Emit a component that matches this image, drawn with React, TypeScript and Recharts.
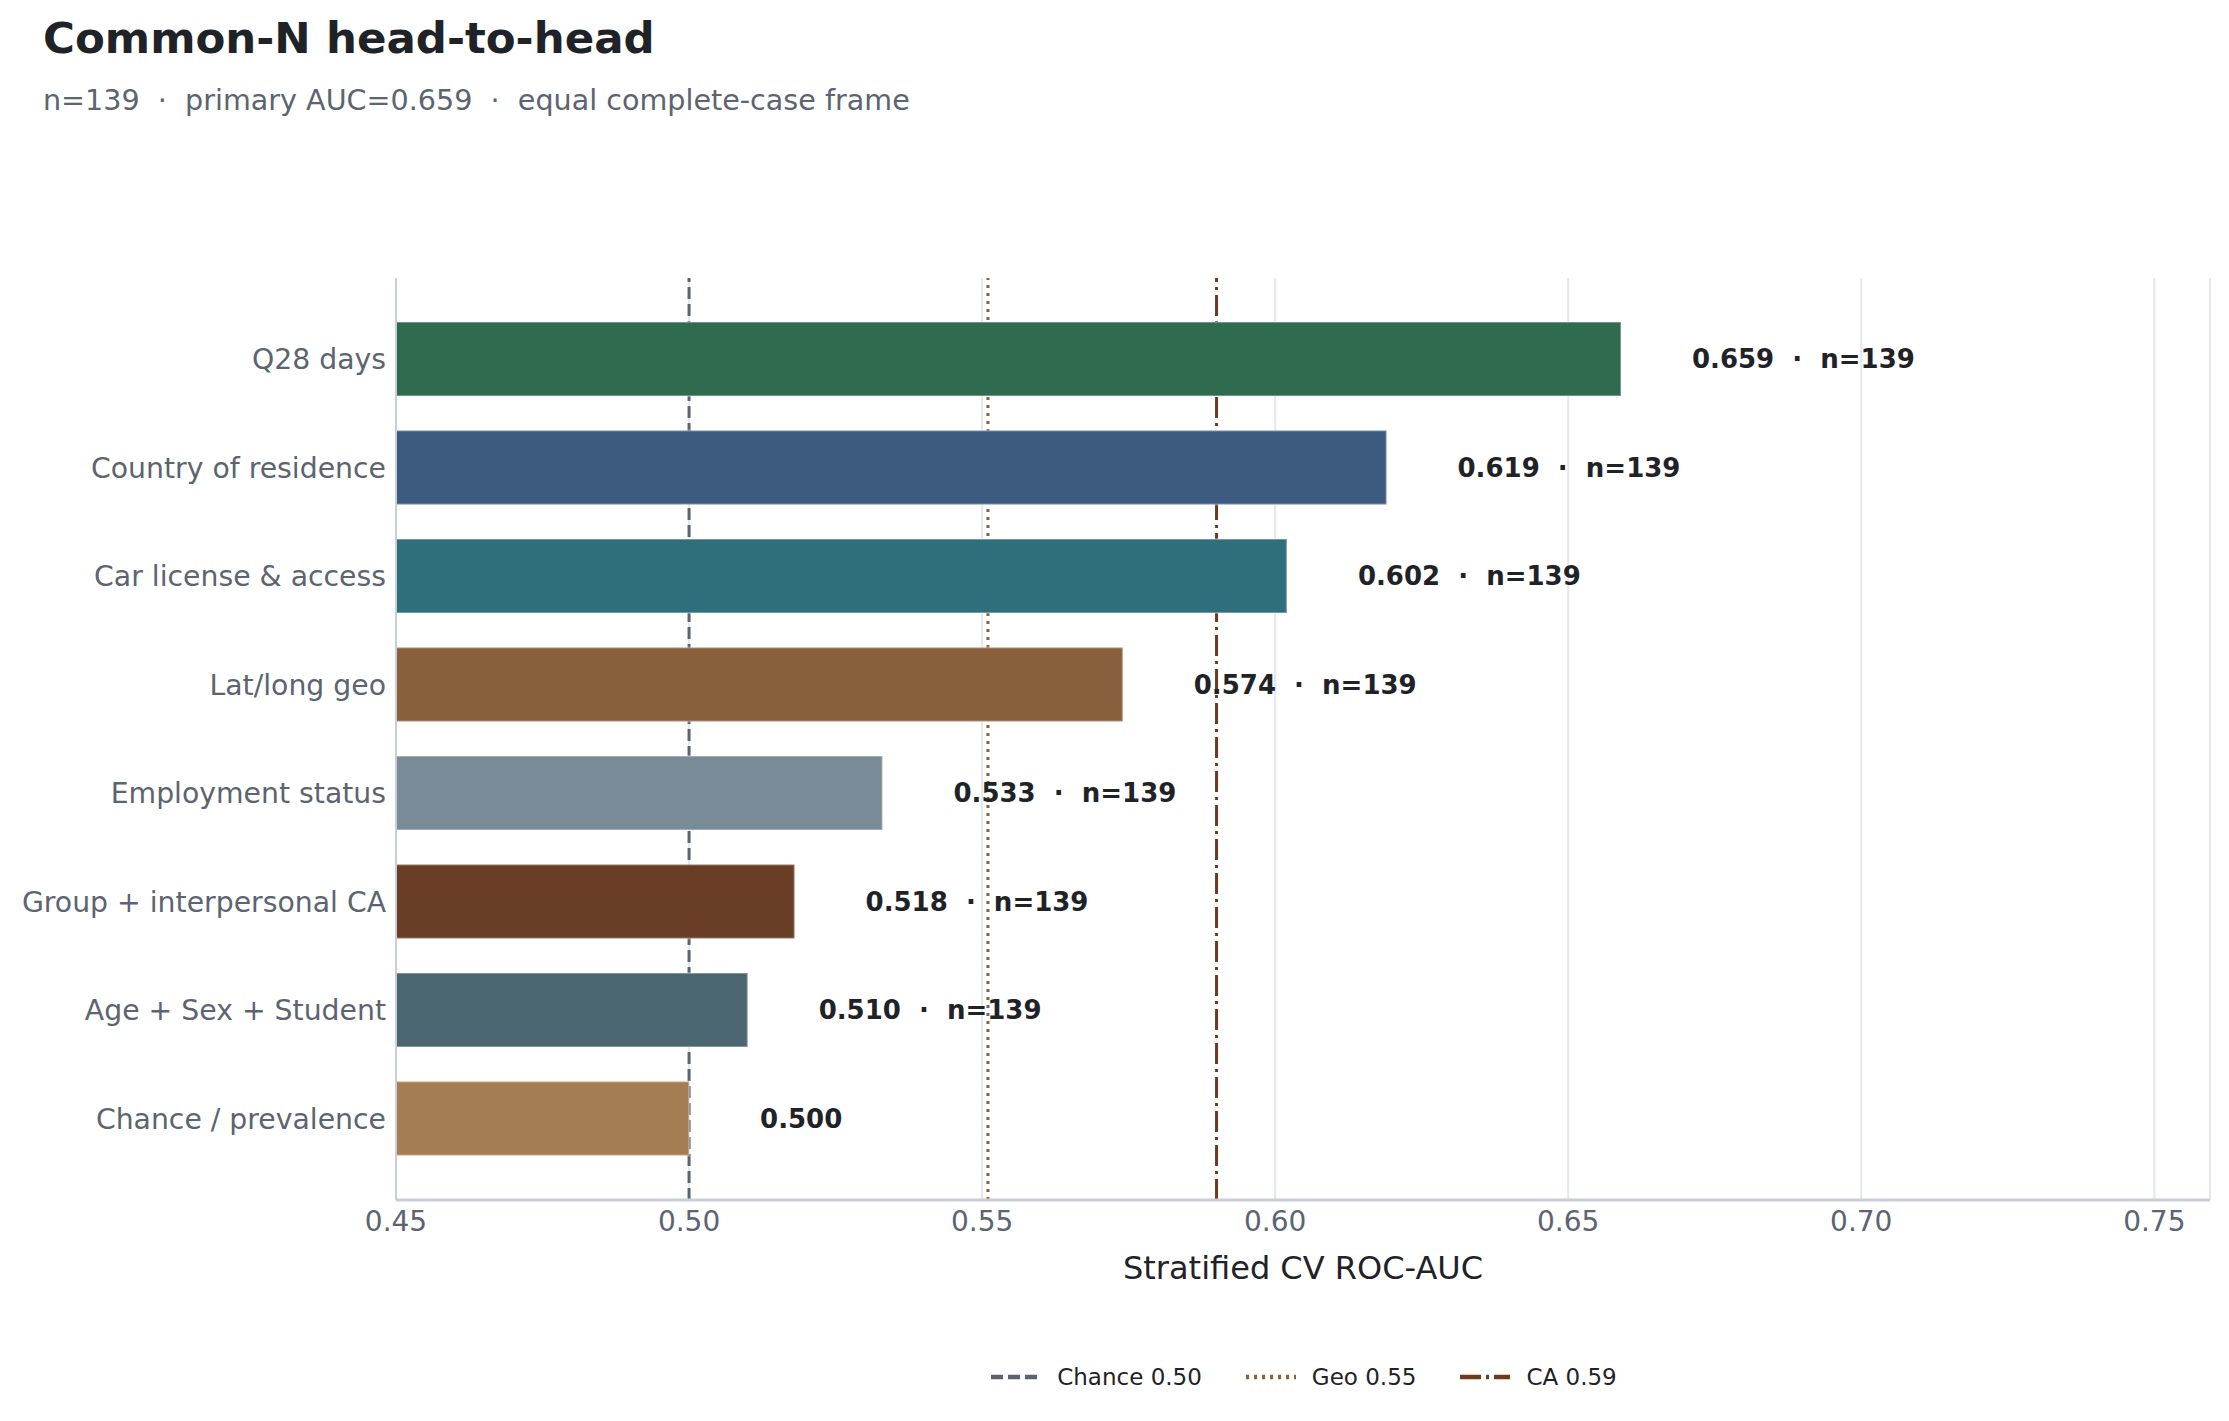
import React from 'react';
import {
  BarChart, Bar, XAxis, YAxis, CartesianGrid, ReferenceLine, Cell, LabelList,
} from 'recharts';

const CATEGORIES = [
  'Q28 days',
  'Country of residence',
  'Car license & access',
  'Lat/long geo',
  'Employment status',
  'Group + interpersonal CA',
  'Age + Sex + Student',
  'Chance / prevalence',
];
const AUC = [0.659, 0.619, 0.602, 0.574, 0.533, 0.518, 0.51, 0.5];
const N_OBS = [139, 139, 139, 139, 139, 139, 139, null];
const X_TICKS = [0.45, 0.5, 0.55, 0.6, 0.65, 0.7, 0.75];
const REF_VALUES = [0.5, 0.551, 0.59];
const REF_LABELS = ['Chance 0.50', 'Geo 0.55', 'CA 0.59'];

const BAR_COLORS = ['#2f6b4f', '#3d5b80', '#2f6f7c', '#8a5f3c', '#7a8b98', '#6a3e26', '#4a6670', '#a67c52'];
const REF_STYLES = [
  { stroke: '#5b6270', dash: '12 5' },
  { stroke: '#8b5e3c', dash: '3 5' },
  { stroke: '#6b3a1f', dash: '21 5 3 5' },
];

const FONT = '"DejaVu Sans", sans-serif';
const W = 2229;
const H = 1421;

const rows = CATEGORIES.map((name, i) => ({
  name,
  auc: AUC[i],
  label: N_OBS[i] == null
    ? AUC[i].toFixed(3)
    : `${AUC[i].toFixed(3)}\u00a0\u00a0·\u00a0\u00a0n=${N_OBS[i]}`,
}));

const ValueLabel = (props: any) => {
  const { x, y, width, height, value } = props;
  return (
    <text
      x={Number(x) + Number(width) + 71}
      y={Number(y) + Number(height) / 2}
      dy="0.36em"
      fontSize={26}
      fontWeight="bold"
      fill="#1f2328"
    >
      {value}
    </text>
  );
};

export default function App() {
  return (
    <div style={{ position: 'absolute', left: 0, top: 0, width: W, height: H, background: '#fff', fontFamily: FONT }}>
      <div style={{ position: 'absolute', left: 43, top: 17, fontSize: 43.5, fontWeight: 'bold', lineHeight: 1, color: '#1f2328', whiteSpace: 'pre' }}>
        Common-N head-to-head
      </div>
      <div style={{ position: 'absolute', left: 43, top: 86, fontSize: 28.6, lineHeight: 1, color: '#5b6470', whiteSpace: 'pre' }}>
        {'n=139  ·  primary AUC=0.659  ·  equal complete-case frame'}
      </div>

      <BarChart
        width={W}
        height={H}
        data={rows}
        layout="vertical"
        margin={{ top: 278, right: 19, bottom: 121, left: 0 }}
      >
        <CartesianGrid horizontal={false} stroke="#e5e7eb" strokeWidth={2} />
        <XAxis
          type="number"
          domain={[0.45, 0.7595]}
          ticks={X_TICKS}
          tickFormatter={(v: number) => v.toFixed(2)}
          height={100}
          tickLine={false}
          tickSize={0}
          tickMargin={11}
          axisLine={{ stroke: '#c8cdd6', strokeWidth: 3 }}
          tick={{ fontSize: 28, fill: '#5b6470' }}
          label={{ value: 'Stratified CV ROC-AUC', position: 'insideBottom', offset: 21, fontSize: 32, fill: '#1f2328' }}
        />
        <YAxis
          type="category"
          dataKey="name"
          width={396}
          tickLine={false}
          tickSize={0}
          tickMargin={10}
          padding={{ top: 27, bottom: 27 }}
          axisLine={{ stroke: '#c8ced8', strokeWidth: 2 }}
          tick={{ fontSize: 28.3, fill: '#5b6470' }}
          interval={0}
        />
        {REF_VALUES.map((v, i) => (
          <ReferenceLine
            key={REF_LABELS[i]}
            x={v}
            stroke={REF_STYLES[i].stroke}
            strokeDasharray={REF_STYLES[i].dash}
            strokeWidth={3}
            zIndex={50}
          />
        ))}
        <Bar dataKey="auc" barSize={74} isAnimationActive={false}>
          {rows.map((r, i) => (
            <Cell key={r.name} fill={BAR_COLORS[i]} stroke="#ffffff" strokeOpacity={0.3} strokeWidth={2} />
          ))}
          <LabelList dataKey="label" content={ValueLabel} />
        </Bar>
      </BarChart>

      <div
        style={{
          position: 'absolute', left: 984, top: 1362, width: 640, height: 30,
          display: 'flex', justifyContent: 'center', alignItems: 'center', gap: 44,
        }}
      >
        {REF_LABELS.map((lab, i) => (
          <div key={lab} style={{ display: 'flex', alignItems: 'center' }}>
            <svg width={50} height={10} style={{ marginRight: 16 }}>
              <line x1={0} y1={5} x2={50} y2={5} stroke={REF_STYLES[i].stroke} strokeWidth={4.5} strokeDasharray={REF_STYLES[i].dash} />
            </svg>
            <span style={{ fontSize: 23, color: '#1f2328', whiteSpace: 'pre' }}>{lab}</span>
          </div>
        ))}
      </div>
    </div>
  );
}
